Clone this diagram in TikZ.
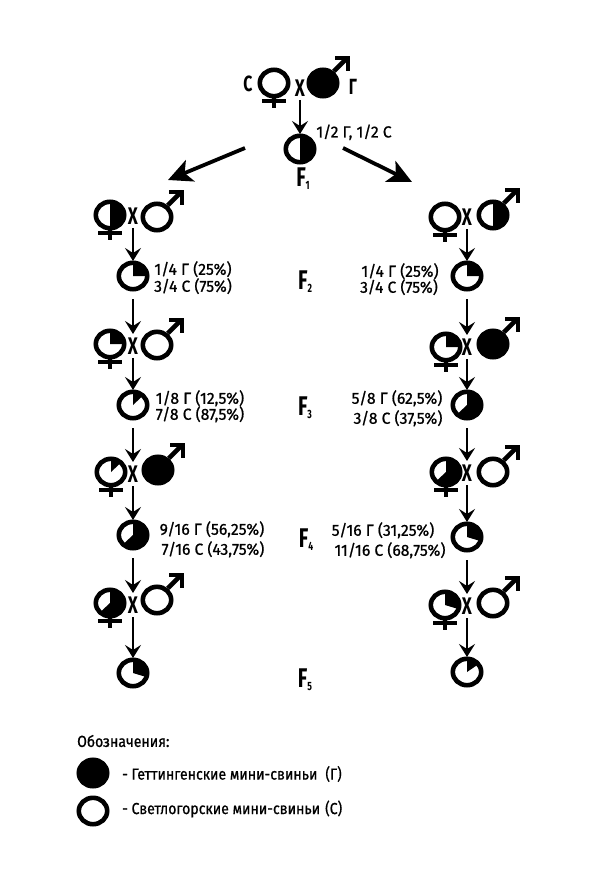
\documentclass[tikz,border=0pt]{standalone}
\usepackage{fontspec}
\setmainfont[FakeStretch=0.88,FakeBold=0.8]{Fira Sans}
\newfontfamily\heavy[FakeStretch=0.72]{Fira Sans}
\newfontfamily\labfont[FakeStretch=0.98,FakeBold=0.8]{Fira Sans}
\usetikzlibrary{arrows.meta}
\tikzset{
  x=1pt,y=-1pt,
  sym/.style={line width=4.6pt,black,miter limit=10},
  arr/.style={line width=2.6pt,-{Stealth[length=13pt,width=16pt,inset=5pt]}},
  bigarr/.style={line width=3.8pt,-{Stealth[length=24pt,width=23pt,inset=6pt]}},
  pienode/.style={circle,minimum size=30pt,inner sep=0pt,outer sep=0pt},
  crossnode/.style={circle,minimum size=24pt,inner sep=0pt,outer sep=0pt,font=\heavy\bfseries\fontsize{24}{24}\selectfont},
  lab/.style={inner sep=0pt,font=\labfont\fontsize{16}{17}\selectfont,text depth=0pt},
  legend/.style={inner sep=0pt,anchor=west,font=\fontsize{16}{17}\selectfont},
  gen/.style={inner sep=0pt,font=\heavy\bfseries\fontsize{27}{27}\selectfont},
  par/.style={inner sep=0pt,font=\heavy\bfseries\fontsize{22}{22}\selectfont},
}
% name, position, fraction black (clockwise from top)
\newcommand{\pieat}[3]{%
  \node[pienode] (#1) at (#2) {};
  \fill[white] (#1.center) ellipse [x radius=16.5,y radius=15.5];
  \ifdim #3pt>0pt
  \fill[black] (#1.center) -- ++(0,-15) arc [start angle=-90,delta angle=360*#3,x radius=16,y radius=15] -- cycle;
  \fi
  \draw[sym] (#1.center) ellipse [x radius=14.2,y radius=13.2];
}
\newcommand{\femat}[3]{%
  \pieat{#1}{#2}{#3}
  \draw[sym] (#1.center) ++(0,15) -- ++(0,10);
  \draw[sym] (#1.center) ++(-12,18) -- ++(24,0);
}
\newcommand{\maleat}[3]{%
  \draw[sym] (#2) ++(9,-10) -- ++(15,-15);
  \draw[sym] (#2) ++(12,-25) -- ++(13,0) -- ++(0,13);
  \pieat{#1}{#2}{#3}
}
\newcommand{\gsub}[1]{F\raisebox{-3pt}{\fontsize{12}{12}\selectfont #1}}
\begin{document}
\begin{tikzpicture}
\useasboundingbox (0,0) rectangle (592,888);
% parents
\node[par] (lc) at (248,84) {С};
\femat{f0}{274,83}{0}
\node[crossnode] (x0) at (300,88) {X};
\maleat{m0}{323,83}{1}
\node[par] (lg) at (353,87) {Г};
\pieat{p0}{300,149}{0.5}
\draw[arr] (x0) -- (p0);
\node[lab] (t0) at (354,131) {1/2 Г, 1/2 С};
\node[gen] (g1) at (303,179) {\gsub{1}};
\coordinate (al0) at (245,148); \coordinate (al1) at (168,180);
\coordinate (ar0) at (343,148); \coordinate (ar1) at (412,182);
\draw[bigarr] (al0) -- (al1);
\draw[bigarr] (ar0) -- (ar1);
% left column
\femat{lf1}{110,215}{0.5}
\node[crossnode] (lx1) at (133,216) {X};
\maleat{lm1}{157,217}{0}
\pieat{lp1}{133,276}{0.25}
\femat{lf2}{110,344}{0.25}
\node[crossnode] (lx2) at (133,346) {X};
\maleat{lm2}{157,345}{0}
\pieat{lp2}{133,405}{0.125}
\femat{lf3}{111,472}{0.125}
\node[crossnode] (lx3) at (133,474) {X};
\maleat{lm3}{158,470}{1}
\pieat{lp3}{133,535}{0.625}
\femat{lf4}{110,603}{0.625}
\node[crossnode] (lx4) at (133,605) {X};
\maleat{lm4}{157,600}{0}
\pieat{lp4}{133,673}{0.3}
\draw[arr] (lx1) -- (lp1);
\draw[arr,shorten <=8pt] (lp1) -- (lx2);
\draw[arr] (lx2) -- (lp2);
\draw[arr,shorten <=8pt] (lp2) -- (lx3);
\draw[arr] (lx3) -- (lp3);
\draw[arr,shorten <=8pt] (lp3) -- (lx4);
\draw[arr] (lx4) -- (lp4);
\node[lab] (lt1a) at (193,268) {1/4 Г (25\%)};
\node[lab] (lt1b) at (193,285) {3/4 С (75\%)};
\node[lab] (lt2a) at (200,397) {1/8 Г (12,5\%)};
\node[lab] (lt2b) at (200,413) {7/8 С (87,5\%)};
\node[lab] (lt3a) at (212,528) {9/16 Г (56,25\%)};
\node[lab] (lt3b) at (213,548) {7/16 С (43,75\%)};
% right column
\femat{rf1}{445,217}{0}
\node[crossnode] (rx1) at (467,217) {X};
\maleat{rm1}{493,215}{0.5}
\pieat{rp1}{467,276}{0.25}
\femat{rf2}{446,347}{0.25}
\node[crossnode] (rx2) at (467,347) {X};
\maleat{rm2}{493,344}{1}
\pieat{rp2}{467,405}{0.625}
\femat{rf3}{446,472}{0.625}
\node[crossnode] (rx3) at (467,473) {X};
\maleat{rm3}{493,472}{0}
\pieat{rp3}{467,537}{0.3}
\femat{rf4}{445,605}{0.3}
\node[crossnode] (rx4) at (467,606) {X};
\maleat{rm4}{493,603}{0}
\pieat{rp4}{467,672}{0.15}
\draw[arr] (rx1) -- (rp1);
\draw[arr,shorten <=8pt] (rp1) -- (rx2);
\draw[arr] (rx2) -- (rp2);
\draw[arr,shorten <=8pt] (rp2) -- (rx3);
\draw[arr] (rx3) -- (rp3);
\draw[arr,shorten <=8pt] (rp3) -- (rx4);
\draw[arr] (rx4) -- (rp4);
\node[lab] (rt1a) at (400,270) {1/4 Г (25\%)};
\node[lab] (rt1b) at (399,286) {3/4 С (75\%)};
\node[lab] (rt2a) at (397,397) {5/8 Г (62,5\%)};
\node[lab] (rt2b) at (398,417) {3/8 С (37,5\%)};
\node[lab] (rt3a) at (383,529) {5/16 Г (31,25\%)};
\node[lab] (rt3b) at (390,549) {11/16 С (68,75\%)};
% generations
\node[gen] (g2) at (305,282) {\gsub{2}};
\node[gen] (g3) at (305,408) {\gsub{3}};
\node[gen] (g4) at (306,540) {\gsub{4}};
\node[gen] (g5) at (305,680) {\gsub{5}};
% legend
\node[legend] (leg) at (77,741) {Обозначения:};
\pieat{lega}{93,773}{1}
\node[legend] (lega t) at (122,774) {- Геттингенские мини-свиньи\hspace{8pt}(Г)};
\pieat{legb}{93,811}{0}
\node[legend] (legb t) at (122,809) {- Светлогорские мини-свиньи\hspace{5pt}(С)};
\end{tikzpicture}
\end{document}
